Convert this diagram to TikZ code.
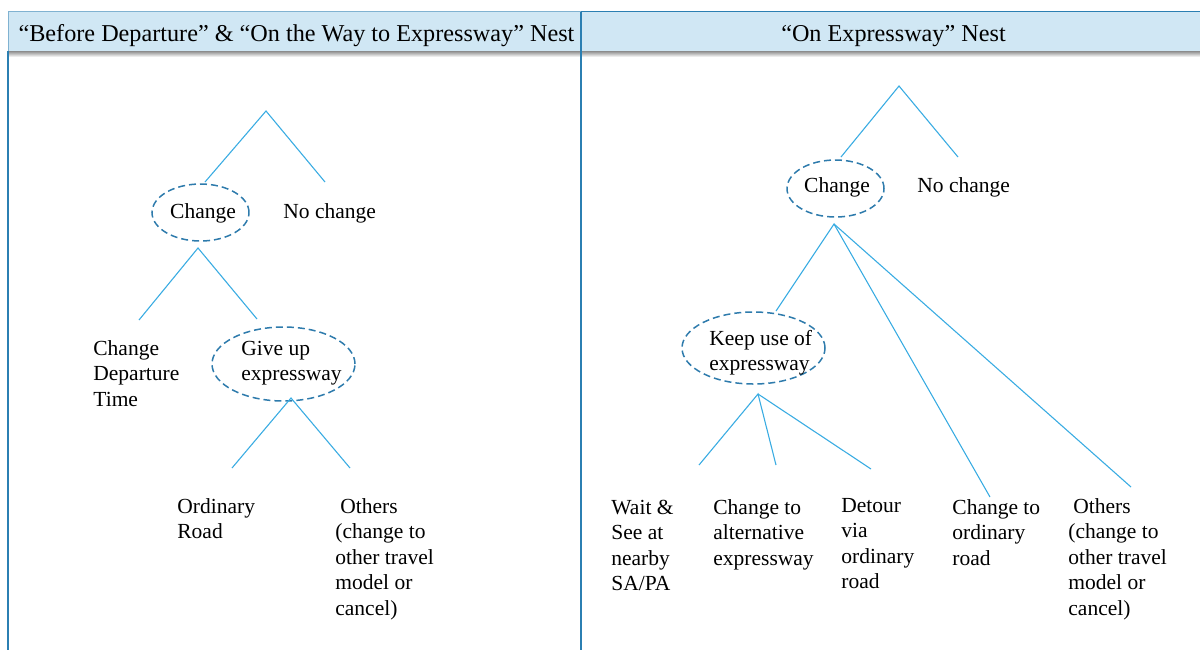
\documentclass[tikz,border=0pt]{standalone}
\usepackage{fontspec}
\setmainfont{Liberation Serif}
\usetikzlibrary{shapes.geometric}
\definecolor{hdrfill}{HTML}{D0E7F4}
\definecolor{frameblue}{HTML}{2B7FB2}
\definecolor{branch}{HTML}{3AACE2}
\definecolor{nestdash}{HTML}{2E7BAC}
\begin{document}
\begin{tikzpicture}[x=0.5pt,y=-0.5pt,
  % multi-line labels are placed by the baseline of their last line
  lbl/.style={font=\fontsize{10.75}{12.8}\selectfont, align=left, anchor=base west, inner sep=0pt},
  hdr/.style={font=\fontsize{12.1}{14}\selectfont, inner sep=0pt, anchor=base},
  branchline/.style={draw=branch, line width=0.55pt},
  nest/.style={ellipse, draw=nestdash, line width=0.75pt, dash pattern=on 3.5pt off 2pt, inner sep=0pt},
  frame/.style={draw=frameblue, line width=0.75pt}]
\useasboundingbox (0,0) rectangle (1200,650);

% header bands with their drop shadow
\shade[top color=black!45, bottom color=white] (8,51) rectangle (1200,57);
\fill[hdrfill] (8,11.5) rectangle (1200,51);
\draw[frameblue!60, line width=0.4pt] (8,51) -- (8,11.5) -- (581,11.5);
\draw[frame] (581,11.5) -- (1200,11.5);
\draw[frame] (8,51) -- (8,650);
\draw[frame] (581,11.5) -- (581,650);
\node[hdr] (hleft) at (296.5,41) {“Before Departure” \& “On the Way to Expressway” Nest};
\node[hdr] (hright) at (893.5,41) {“On Expressway” Nest};

% ---------- left nest ----------
\coordinate (lroot) at (266,111);
\coordinate (lroot-l) at (205,182);
\coordinate (lroot-r) at (325,182);
\node[nest, minimum width=48.5pt, minimum height=28.5pt] (lchg) at (200.5,212.5) {};
\node[lbl, anchor=base] (lchgt) at (203,218) {Change};
\node[lbl] (lnoc) at (283,218) {No change};
\coordinate (lchg-b) at (198,248);
\coordinate (lchg-l) at (139,320);
\coordinate (lchg-r) at (257,319);
\node[lbl] (ldep) at (93,406.2) {Change\\Departure\\Time};
\node[nest, minimum width=71.5pt, minimum height=37pt] (lgive) at (283.5,364) {};
\node[lbl] (lgivet) at (241,380.6) {Give up\\expressway};
\coordinate (lgive-b) at (291,398);
\coordinate (lgive-l) at (232,468);
\coordinate (lgive-r) at (350,468);
\node[lbl] (lord) at (177,538.6) {Ordinary\\Road};
\node[lbl] (loth) at (335,615.4) {\hspace*{2.5pt}Others\\(change to\\other travel\\model or\\cancel)};

\draw[branchline] (lroot-l) -- (lroot) -- (lroot-r);
\draw[branchline] (lchg-l) -- (lchg-b) -- (lchg-r);
\draw[branchline] (lgive-l) -- (lgive-b) -- (lgive-r);

% ---------- right nest ----------
\coordinate (rroot) at (899,86);
\coordinate (rroot-l) at (841,157);
\coordinate (rroot-r) at (958,157);
\node[nest, minimum width=48.5pt, minimum height=28.5pt] (rchg) at (835.5,188.5) {};
\node[lbl, anchor=base] (rchgt) at (837,192) {Change};
\node[lbl] (rnoc) at (917,192) {No change};
\coordinate (rchg-b) at (834,224);
\coordinate (rchg-k) at (776,311);
\coordinate (rchg-o) at (990,497);
\coordinate (rchg-x) at (1131,487);
\node[nest, minimum width=71.5pt, minimum height=36pt] (rkeep) at (753.5,348) {};
\node[lbl] (rkeept) at (709,370.6) {Keep use of\\expressway};
\coordinate (rkeep-b) at (758,394);
\coordinate (rkeep-w) at (699,465);
\coordinate (rkeep-a) at (776,465);
\coordinate (rkeep-d) at (871,469);
\node[lbl] (rwait) at (611,590.8) {Wait \&\\See at\\nearby\\SA/PA};
\node[lbl] (ralt) at (713,565.2) {Change to\\alternative\\expressway};
\node[lbl] (rdet) at (841,588.8) {Detour\\via\\ordinary\\road};
\node[lbl] (rord) at (952,565.2) {Change to\\ordinary\\road};
\node[lbl] (roth) at (1068,615.4) {\hspace*{2.5pt}Others\\(change to\\other travel\\model or\\cancel)};

\draw[branchline] (rroot-l) -- (rroot) -- (rroot-r);
\draw[branchline] (rchg-k) -- (rchg-b) -- (rchg-o);
\draw[branchline] (rchg-b) -- (rchg-x);
\draw[branchline] (rkeep-w) -- (rkeep-b) -- (rkeep-a);
\draw[branchline] (rkeep-b) -- (rkeep-d);
\end{tikzpicture}
\end{document}
